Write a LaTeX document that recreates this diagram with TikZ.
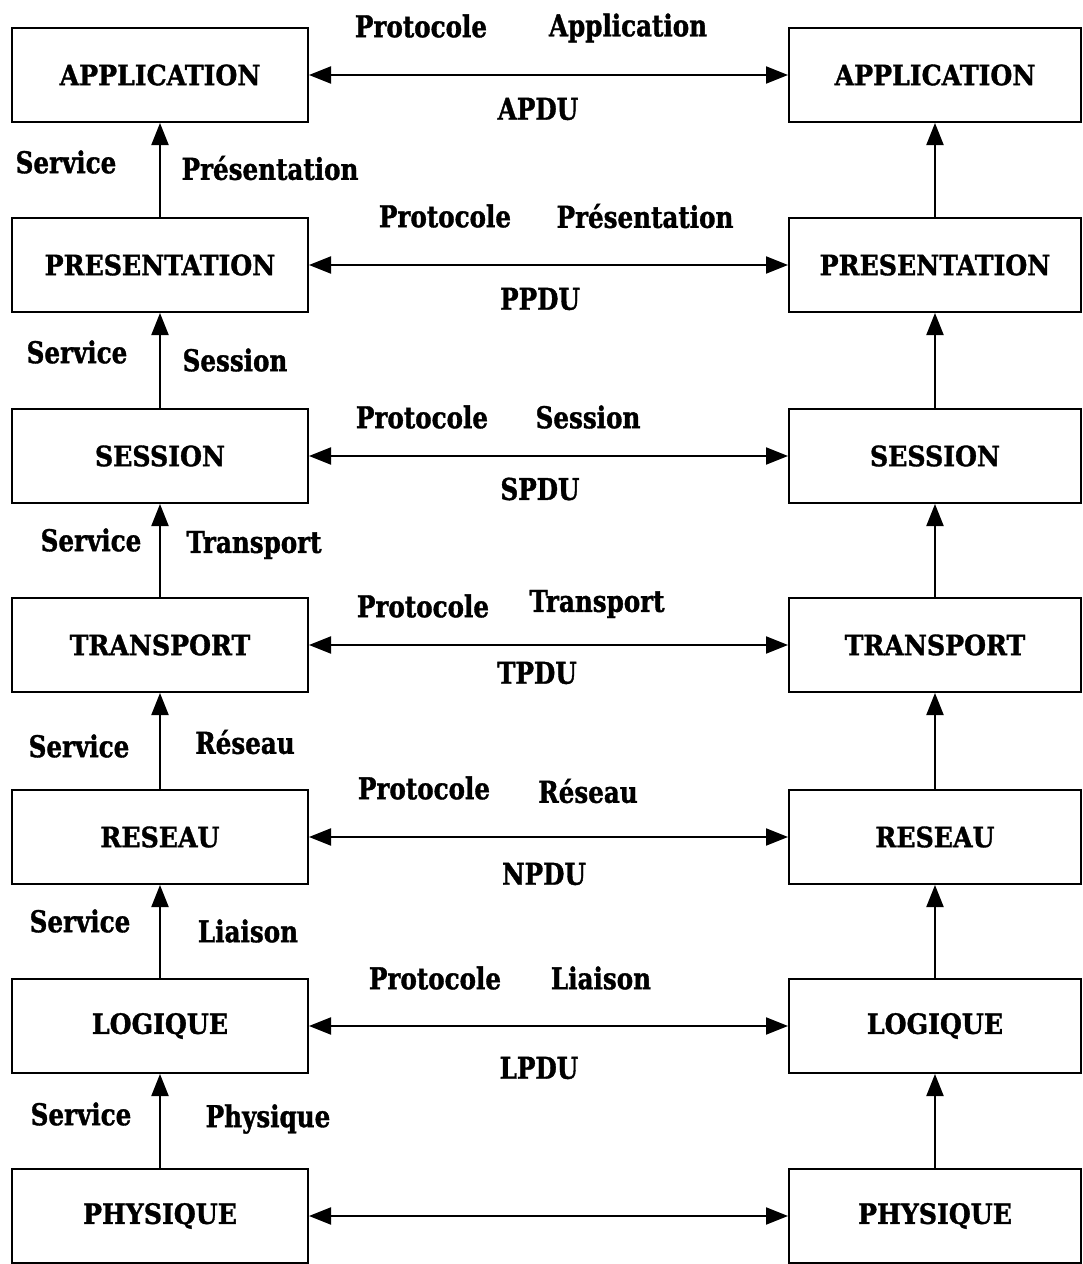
\documentclass[tikz,border=0pt]{standalone}
\usepackage{fontspec}
\usetikzlibrary{arrows.meta}
\newfontfamily\boxfont{DejaVu Serif Bold}[FakeStretch=0.9, FakeBold=1.2]
\newfontfamily\labfont{DejaVu Serif Bold}[FakeStretch=0.82, FakeBold=1.2]
\begin{document}
\begin{tikzpicture}[x=1pt,y=-1pt,
  layer/.style={draw=black, line width=2pt, minimum width=296pt, minimum height=94pt,
    inner sep=0pt, font=\boxfont\fontsize{28}{30}\selectfont},
  rlayer/.style={layer, minimum width=292pt},
  lab/.style={inner sep=0pt, font=\labfont\fontsize{30}{32}\selectfont},
  conn/.style={line width=2pt, {Triangle[length=22pt,width=17pt]}-{Triangle[length=22pt,width=17pt]}},
  up/.style={line width=2pt, -{Triangle[length=22pt,width=17pt]}}
]
\useasboundingbox[fill=white] (0,0) rectangle (1082,1264);

% left stack
\node[layer] (la) at (160,75) {APPLICATION};
\node[layer] (lp) at (160,265) {PRESENTATION};
\node[layer] (ls) at (160,456) {SESSION};
\node[layer] (lt) at (160,645) {TRANSPORT};
\node[layer] (lr) at (160,837) {RESEAU};
\node[layer] (ll) at (160,1026) {LOGIQUE};
\node[layer] (lph) at (160,1216) {PHYSIQUE};

% right stack
\node[rlayer] (ra) at (935,75) {APPLICATION};
\node[rlayer] (rp) at (935,265) {PRESENTATION};
\node[rlayer] (rs) at (935,456) {SESSION};
\node[rlayer] (rt) at (935,645) {TRANSPORT};
\node[rlayer] (rr) at (935,837) {RESEAU};
\node[rlayer] (rl) at (935,1026) {LOGIQUE};
\node[rlayer] (rph) at (935,1216) {PHYSIQUE};

% peer protocols
\draw[conn] (la) -- (ra);
\draw[conn] (lp) -- (rp);
\draw[conn] (ls) -- (rs);
\draw[conn] (lt) -- (rt);
\draw[conn] (lr) -- (rr);
\draw[conn] (ll) -- (rl);
\draw[conn] (lph) -- (rph);

% services (left)
\draw[up] (lp) -- (la);
\draw[up] (ls) -- (lp);
\draw[up] (lt) -- (ls);
\draw[up] (lr) -- (lt);
\draw[up] (ll) -- (lr);
\draw[up] (lph) -- (ll);
% services (right)
\draw[up] (rp) -- (ra);
\draw[up] (rs) -- (rp);
\draw[up] (rt) -- (rs);
\draw[up] (rr) -- (rt);
\draw[up] (rl) -- (rr);
\draw[up] (rph) -- (rl);

% protocol labels
\node[lab] (pa1) at (421,26) {Protocole};
\node[lab] (pa2) at (628,28) {Application};
\node[lab] (pa3) at (538,109) {APDU};
\node[lab] (pp1) at (445,216) {Protocole};
\node[lab] (pp2) at (645,216) {Présentation};
\node[lab] (pp3) at (540,299) {PPDU};
\node[lab] (ps1) at (422,417) {Protocole};
\node[lab] (ps2) at (588,417) {Session};
\node[lab] (ps3) at (540,489) {SPDU};
\node[lab] (pt1) at (423,606) {Protocole};
\node[lab] (pt2) at (597,604) {Transport};
\node[lab] (pt3) at (537,673) {TPDU};
\node[lab] (pr1) at (424,788) {Protocole};
\node[lab] (pr2) at (588,791) {Réseau};
\node[lab] (pr3) at (544,874) {NPDU};
\node[lab] (pl1) at (435,978) {Protocole};
\node[lab] (pl2) at (601,978) {Liaison};
\node[lab] (pl3) at (539,1068) {LPDU};

% service labels
\node[lab] (sa1) at (66,162) {Service};
\node[lab] (sa2) at (270,168) {Présentation};
\node[lab] (sp1) at (77,352) {Service};
\node[lab] (sp2) at (235,360) {Session};
\node[lab] (ss1) at (91,540) {Service};
\node[lab] (ss2) at (254,545) {Transport};
\node[lab] (st1) at (79,746) {Service};
\node[lab] (st2) at (245,742) {Réseau};
\node[lab] (sr1) at (80,921) {Service};
\node[lab] (sr2) at (248,931) {Liaison};
\node[lab] (sl1) at (81,1114) {Service};
\node[lab] (sl2) at (268,1119) {Physique};
\end{tikzpicture}
\end{document}
